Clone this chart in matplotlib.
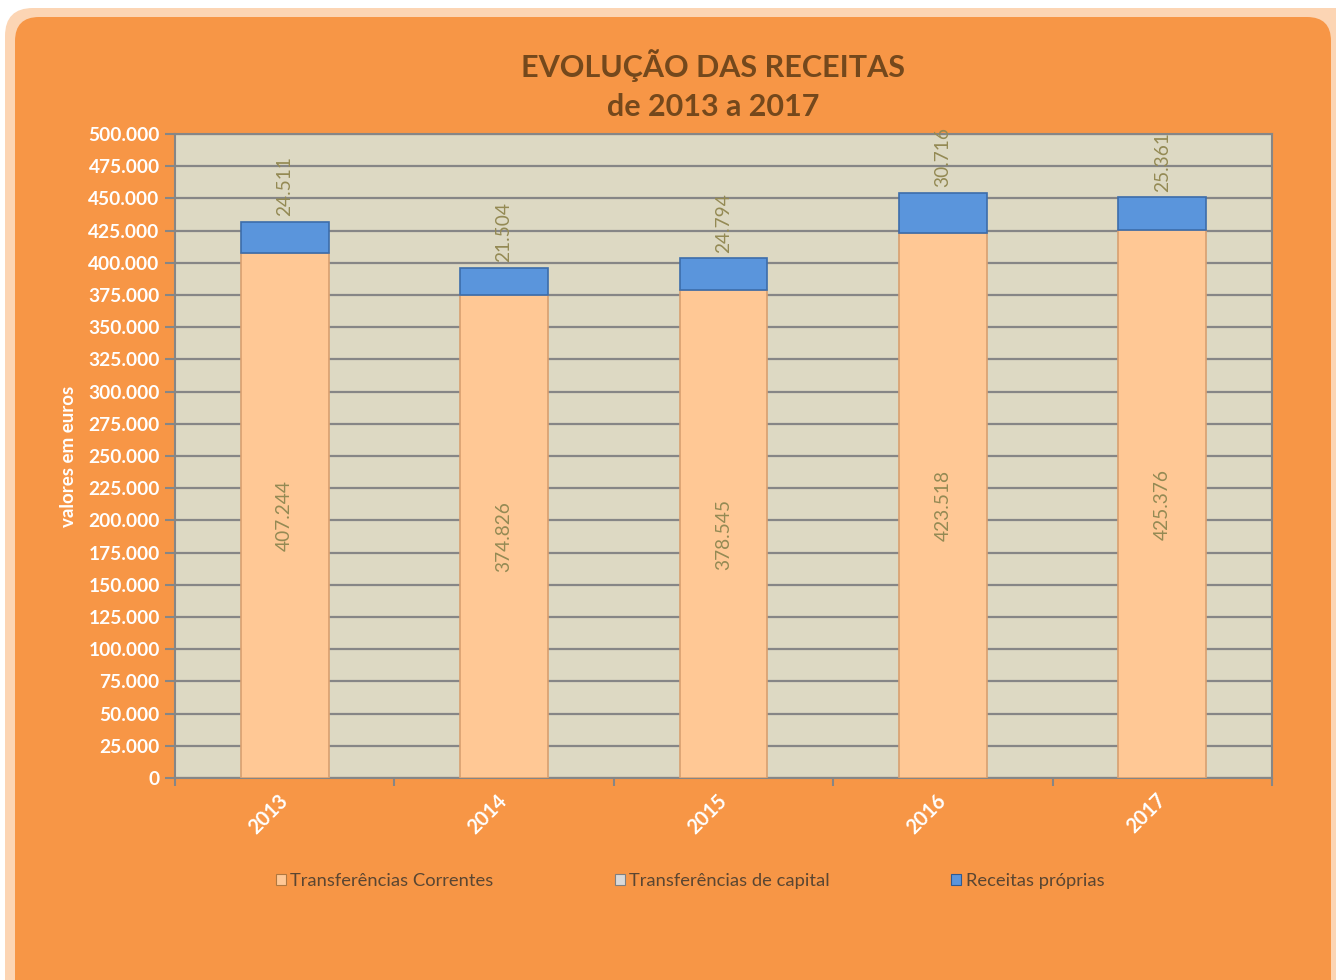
import matplotlib
matplotlib.use("Agg")
import matplotlib.pyplot as plt
from matplotlib.patches import FancyBboxPatch, Rectangle
from matplotlib.transforms import IdentityTransform
from matplotlib.ticker import FuncFormatter, MultipleLocator
import numpy as np

years = ["2013", "2014", "2015", "2016", "2017"]
transf_correntes = [407244, 374826, 378545, 423518, 425376]
transf_capital = [0, 0, 0, 0, 0]
receitas_proprias = [24511, 21504, 24794, 30716, 25361]
series_names = ["Transferências Correntes", "Transferências de capital", "Receitas próprias"]

plt.rcParams['font.family'] = ['Lato', 'DejaVu Sans']

W, H = 1336, 980
fig = plt.figure(figsize=(W / 100, H / 100), dpi=100, facecolor='white')

outer = FancyBboxPatch((5, -40), W + 40, 1012, boxstyle="round,pad=0,rounding_size=28",
                       transform=IdentityTransform(), facecolor='#FCD5B4', edgecolor='none', zorder=-10)
inner = FancyBboxPatch((15, -40), 1316, 1003, boxstyle="round,pad=0,rounding_size=24",
                       transform=IdentityTransform(), facecolor='#F79646', edgecolor='none', zorder=-9)
fig.patches.extend([outer, inner])

ax = fig.add_axes([175 / W, 1 - 778 / H, (1272 - 175) / W, (778 - 134) / H])
ax.set_facecolor('#DDD9C3')

x = np.arange(len(years))
width = 0.4
c_peach = '#FFC895'
c_cap = '#D9D9D9'
c_blue = '#5A95DC'

b1 = ax.bar(x, transf_correntes, width, color=c_peach, edgecolor='#D8A070', linewidth=1.2, zorder=3)
bottom2 = np.array(transf_correntes)
b2 = ax.bar(x, transf_capital, width, bottom=bottom2, color=c_cap, edgecolor='none', linewidth=0, zorder=3)
bottom3 = bottom2 + np.array(transf_capital)
b3 = ax.bar(x, receitas_proprias, width, bottom=bottom3, color=c_blue, edgecolor='#3D6DAA', linewidth=1.2, zorder=3)

def fmt(v):
    return f"{v:,.0f}".replace(",", ".")

lab_color = '#948A54'
for xi, v in zip(x, transf_correntes):
    ax.text(xi, v / 2, fmt(v), rotation=90, ha='center', va='center', color=lab_color, fontsize=13.8, zorder=4)
for xi, b, v in zip(x, bottom3, receitas_proprias):
    ax.annotate(fmt(v), (xi, b + v), xytext=(0, 4), textcoords='offset points', rotation=90,
                ha='center', va='bottom', color=lab_color, fontsize=13.8, zorder=4, annotation_clip=False)

ax.set_ylim(0, 500000)
ax.set_xlim(-0.5, len(years) - 0.5)
ax.yaxis.set_major_locator(MultipleLocator(25000))
ax.yaxis.set_major_formatter(FuncFormatter(lambda v, p: fmt(v)))
ax.grid(axis='y', color='#868686', linewidth=1.6, zorder=1)
ax.set_axisbelow(True)

ax.set_xticks(x)
ax.set_xticklabels(years)
ax.set_xticks(np.arange(-0.5, len(years)), minor=True)
ax.tick_params(axis='x', which='major', length=0, pad=14)
ax.tick_params(axis='x', which='minor', length=6, color='#868686', width=1.5)
ax.tick_params(axis='y', which='major', length=7, color='#868686', width=1.5, pad=4)
for lab in ax.get_xticklabels():
    lab.set_rotation(45)
    lab.set_ha('right')
    lab.set_va('center')
    lab.set_rotation_mode('anchor')
    lab.set_color('white')
    lab.set_fontweight('bold')
    lab.set_fontsize(14.5)
for lab in ax.get_yticklabels():
    lab.set_color('white')
    lab.set_fontweight('bold')
    lab.set_fontsize(13.8)

for s in ax.spines.values():
    s.set_color('#868686')
    s.set_linewidth(1.5)

ax.set_ylabel('valores em euros', color='white', fontweight='bold', fontsize=13.5, labelpad=8)

fig.text(713 / W, 1 - 66 / H, 'EVOLUÇÃO DAS RECEITAS', ha='center', va='center',
         fontsize=22, fontweight='bold', color='#74481C')
fig.text(713 / W, 1 - 107 / H, 'de 2013 a 2017', ha='center', va='center',
         fontsize=22, fontweight='bold', color='#74481C')

handles = [Rectangle((0, 0), 1, 1, facecolor=c_peach, edgecolor='#B07840', linewidth=0.8),
           Rectangle((0, 0), 1, 1, facecolor=c_cap, edgecolor='#808080', linewidth=0.8),
           Rectangle((0, 0), 1, 1, facecolor=c_blue, edgecolor='#2F5A90', linewidth=0.8)]
leg = fig.legend(handles, series_names, loc='center', bbox_to_anchor=(690 / W, 1 - 881 / H), ncol=3,
                 frameon=False, fontsize=13.2, handlelength=0.55, handleheight=0.55, handletextpad=0.25,
                 columnspacing=6.6)
for t in leg.get_texts():
    t.set_color('#5A4632')

fig.savefig('out.png', dpi=100, facecolor=fig.get_facecolor())
